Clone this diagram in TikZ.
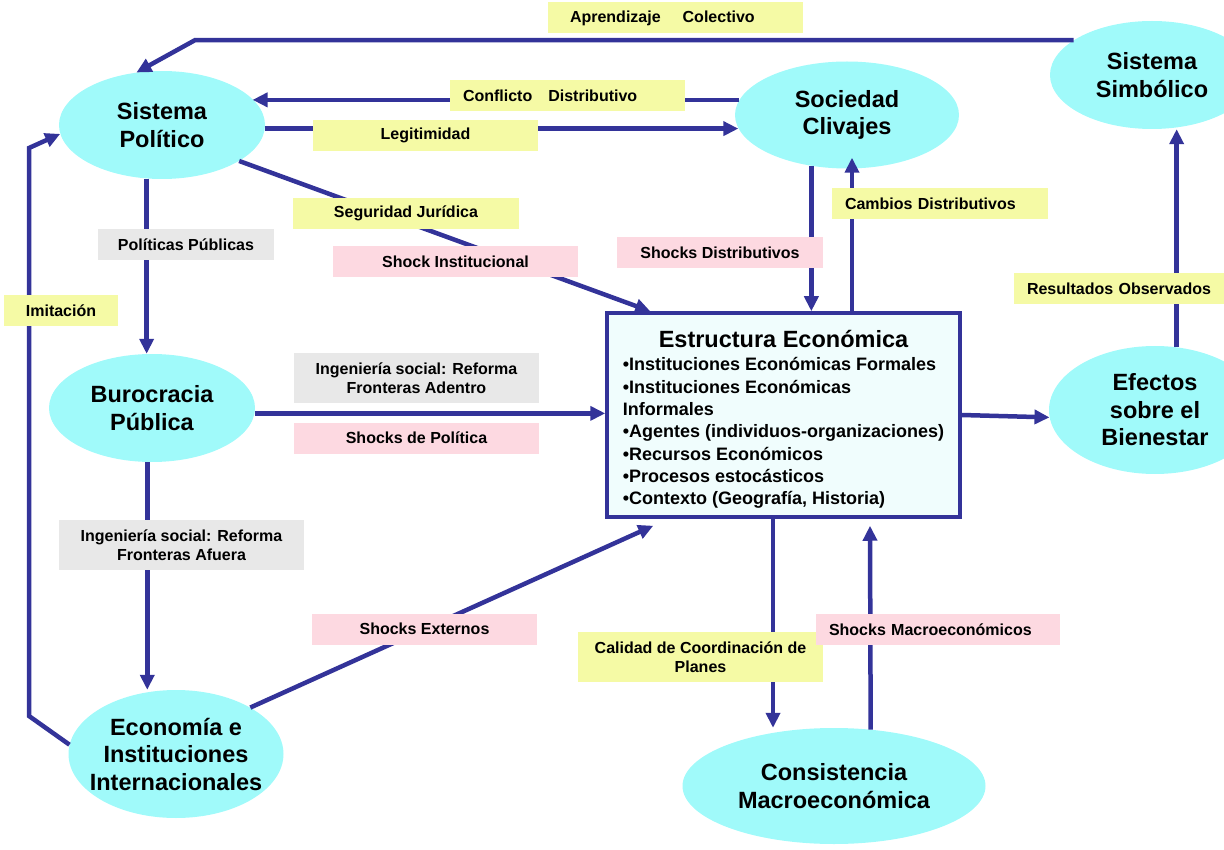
\documentclass[tikz,border=0pt]{standalone}
\usepackage{fontspec}
\setmainfont{Liberation Sans}
\usetikzlibrary{shapes,arrows.meta}

\definecolor{navy}{RGB}{51,51,153}
\definecolor{cyanfill}{RGB}{160,250,250}
\definecolor{boxfill}{RGB}{240,253,253}
\definecolor{lblyellow}{RGB}{245,250,165}
\definecolor{lblpink}{RGB}{253,217,225}
\definecolor{lblgray}{RGB}{232,232,232}

\tikzset{
  circ/.style={shape=ellipse,fill=cyanfill,inner sep=-30pt,align=center,font=\bfseries\fontsize{23.5}{27.5}\selectfont},
  ebox/.style={shape=rectangle,draw=navy,fill=boxfill,line width=3.5pt,minimum width=353pt,minimum height=204pt,inner sep=0pt,font=\bfseries},
  arr/.style={-{Triangle[length=15pt,width=14pt]},draw=navy,line width=4.5pt},
  lbl/.style={shape=rectangle,inner sep=0pt,minimum height=31pt,align=center,font=\bfseries\fontsize{16}{19.5}\selectfont},
  lleft/.style={lbl,align=left,inner xsep=13pt},
}

\begin{document}
\begin{tikzpicture}[x=1pt,y=-1pt]
\useasboundingbox (0,0) rectangle (1224,850);

\node[circ,minimum width=206pt,minimum height=108pt] (0) at (162,125) {Sistema\\Político};
\node[circ,minimum width=224pt,minimum height=107pt] (1) at (847,115) {Sociedad\\Clivajes};
\node[circ,minimum width=204pt,minimum height=108pt] (2) at (1152,75) {Sistema\\Simbólico};
\node[circ,minimum width=206pt,minimum height=108pt] (3) at (152,408) {Burocracia\\Pública};
\node[circ,minimum width=215pt,minimum height=128pt] (4) at (176,754) {Economía e\\Instituciones\\Internacionales};
\node[circ,minimum width=303pt,minimum height=116pt] (5) at (834,786) {Consistencia\\Macroeconómica};
\node[circ,minimum width=212pt,minimum height=128pt] (6) at (1155,410) {Efectos\\sobre el\\Bienestar};
\node[ebox] (7) at (783.5,415) {\fontsize{18}{22.3}\selectfont\begin{tabular}{@{}l@{}}
\multicolumn{1}{@{}c@{}}{\rule{0pt}{29pt}\fontsize{23.5}{28}\selectfont Estructura Económica}\\[1pt]
•Instituciones Económicas Formales\\
•Instituciones Económicas\\
Informales\\
•Agentes (individuos-organizaciones)\\
•Recursos Económicos\\
•Procesos estocásticos\\
•Contexto (Geografía, Historia)
\end{tabular}};

\coordinate (24) at (29,716);
\coordinate (25) at (29,148);
\coordinate (26) at (195,41);

\draw [arr] (2.156) -- (2.156 -| 26) -- (0.116);
\draw [arr] (4.175) -- (24) -- (25) -- (0.185);
\path (1.172) edge [arr] (1.172 -| 0.16);
\path (0.358) edge [arr] (0.358 -| 1.187);
\path (0.335) edge [arr] ([xshift=45pt]7.north west);
\path (0.254) edge [arr] (0.254 |- 3.north);
\path (3.357) edge [arr] (3.357 -| 7.west);
\path (3.265) edge [arr] (3.265 |- 4.north);
\path (4.32) edge [arr] ([xshift=48pt,yshift=-7pt]7.south west);
\path (1.235) edge [arr] (1.235 |- 7.north);
\path ([xshift=68.5pt]7.north) edge [arr] ([xshift=5pt,yshift=11pt]1.south);
\path (7.east) edge [arr] (6.184);
\path (6.71) edge [arr] (6.71 |- 2.south);
\path ([xshift=-10.5pt]7.south) edge [arr] ([xshift=-10.5pt]7.south |- 5.north);
\path (5.57) edge [arr] ([xshift=86.5pt,yshift=-7pt]7.south);

\node[lleft,fill=lblyellow,text width=211pt,inner xsep=22pt] (8) at (675.5,18) {Aprendizaje\hspace{22pt}Colectivo};
\node[lleft,fill=lblyellow,text width=209pt] (9) at (567.5,96) {Conflicto\hspace{16pt}Distributivo};
\node[lbl,fill=lblyellow,minimum width=225pt] (10) at (425.5,135.5) {Legitimidad};
\node[lbl,fill=lblyellow,minimum width=226pt] (11) at (406,213.5) {Seguridad Jurídica};
\node[lbl,fill=lblpink,minimum width=245pt] (12) at (455.5,262) {Shock Institucional};
\node[lbl,fill=lblgray,minimum width=176pt] (13) at (186,244.5) {Políticas Públicas};
\node[lbl,fill=lblyellow,minimum width=114pt] (14) at (61,311) {Imitación};
\node[lbl,fill=lblgray,minimum width=245pt,minimum height=50pt] (15) at (416.5,378) {Ingeniería social: Reforma\\Fronteras Adentro};
\node[lbl,fill=lblpink,minimum width=245pt] (16) at (416.5,438) {Shocks de Política};
\node[lbl,fill=lblgray,minimum width=245pt,minimum height=50pt] (17) at (181.5,545) {Ingeniería social: Reforma\\Fronteras Afuera};
\node[lbl,fill=lblpink,minimum width=225pt] (18) at (424.5,629) {Shocks Externos};
\node[lbl,fill=lblpink,minimum width=206pt] (19) at (720,252.5) {Shocks Distributivos};
\node[lleft,fill=lblyellow,text width=190pt] (20) at (940,203.5) {Cambios Distributivos};
\node[lleft,fill=lblyellow,text width=190pt] (21) at (1122,288.5) {Resultados Observados};
\node[lbl,fill=lblyellow,minimum width=245pt,minimum height=50pt] (22) at (700.5,657) {Calidad de Coordinación de\\Planes};
\node[lleft,fill=lblpink,text width=218pt] (23) at (938,629.5) {Shocks Macroeconómicos};
\end{tikzpicture}
\end{document}
